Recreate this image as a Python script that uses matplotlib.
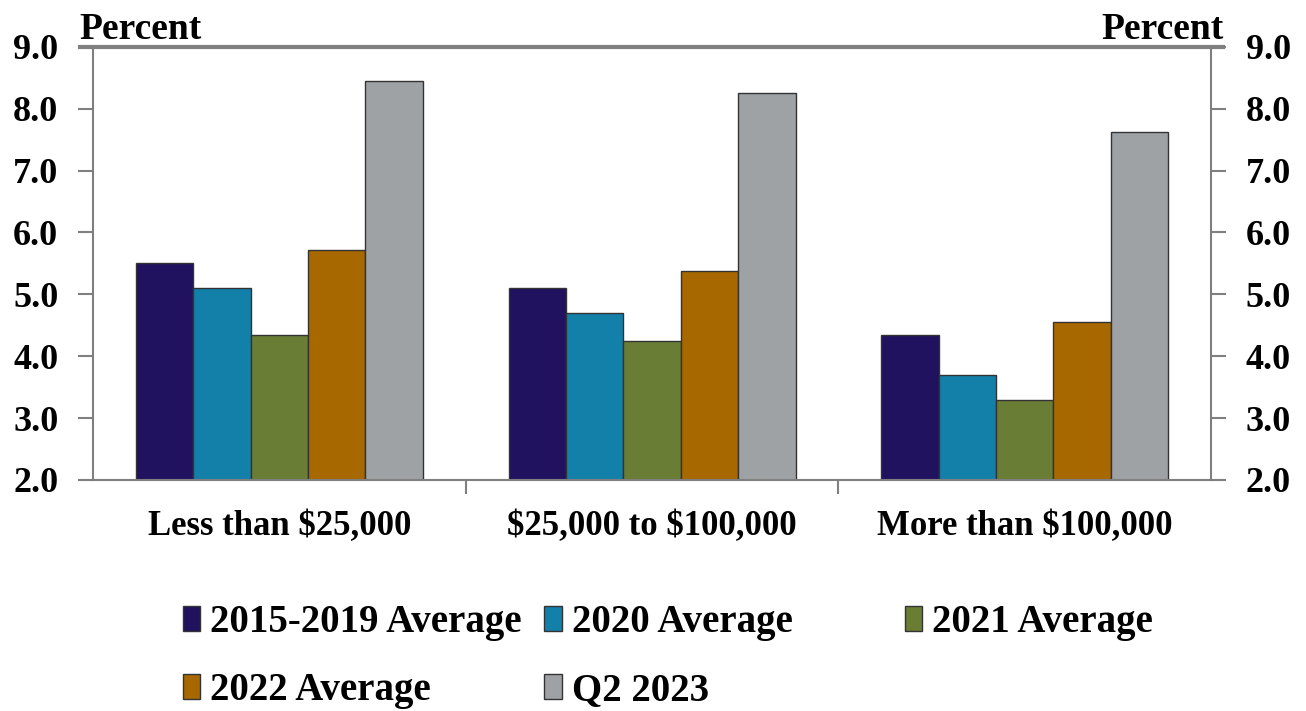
import numpy as np
import matplotlib.pyplot as plt
from matplotlib.patches import Patch

plt.rcParams['font.family'] = ['Liberation Serif', 'DejaVu Serif']
plt.rcParams['font.weight'] = 'bold'
plt.rcParams['text.parse_math'] = False

categories = ["Less than $25,000", "$25,000 to $100,000", "More than $100,000"]
series = ["2015-2019 Average", "2020 Average", "2021 Average", "2022 Average", "Q2 2023"]
values = {
    "2015-2019 Average": [5.50, 5.10, 4.35],
    "2020 Average": [5.10, 4.70, 3.70],
    "2021 Average": [4.35, 4.25, 3.30],
    "2022 Average": [5.72, 5.38, 4.56],
    "Q2 2023": [8.45, 8.26, 7.62],
}
colors = ["#20125e", "#1380aa", "#6a7d35", "#a86800", "#9ea2a5"]
yticks = [2.0, 3.0, 4.0, 5.0, 6.0, 7.0, 8.0, 9.0]

fig = plt.figure(figsize=(13.06, 7.11), dpi=100)
ax = fig.add_axes([0.0712, 0.325, 0.8561, 0.609])

x = np.arange(len(categories))
w = 0.154
for j, s in enumerate(series):
    ax.bar(x + (j - 2) * w, values[s], w, bottom=0, color=colors[j],
           edgecolor="#333333", linewidth=1.0, zorder=2)

ax.set_ylim(2, 9)
ax.set_xlim(-0.5, 2.5)
ax.set_yticks(yticks)
ax.set_yticklabels([f"{v:.1f}" for v in yticks], fontsize=26, fontweight='bold')
ax.tick_params(axis='y', direction='out', length=11, width=1.5, color="#7f7f7f", pad=14,
               right=True, labelright=True)

ax.set_xticks(x)
ax.set_xticklabels(categories, fontsize=25, fontweight='bold')
ax.set_xticks([0.5, 1.5], minor=True)
ax.tick_params(axis='x', which='major', length=0, pad=22)
ax.tick_params(axis='x', which='minor', length=10, width=1.5, color="#7f7f7f")

for side in ['left', 'right', 'bottom']:
    ax.spines[side].set_color("#7f7f7f")
    ax.spines[side].set_linewidth(1.5)
ax.spines['top'].set_visible(False)
ax.axhline(9, xmin=-0.012, xmax=1.011, color="#808080", linewidth=3, clip_on=False, zorder=3)

ax.text(-0.012, 1.0, "Percent", transform=ax.transAxes, ha='left', va='bottom',
        fontsize=27, fontweight='bold')
ax.text(1.011, 1.0, "Percent", transform=ax.transAxes, ha='right', va='bottom',
        fontsize=27, fontweight='bold')

handles = [Patch(facecolor=colors[j], edgecolor="#333333", linewidth=1.0) for j in range(len(series))]
columns = [[0, 3], [1, 4], [2]]
col_x = [0.125, 0.402, 0.678]
for cx, idx in zip(col_x, columns):
    fig.legend([handles[i] for i in idx], [series[i] for i in idx],
               loc='upper left', bbox_to_anchor=(cx, 0.178), frameon=False,
               prop={'family': 'Liberation Serif', 'weight': 'bold', 'size': 28},
               handlelength=0.45, handleheight=0.6, handletextpad=0.25,
               labelspacing=0.8, borderpad=0)

fig.savefig("out.png", dpi=100)
